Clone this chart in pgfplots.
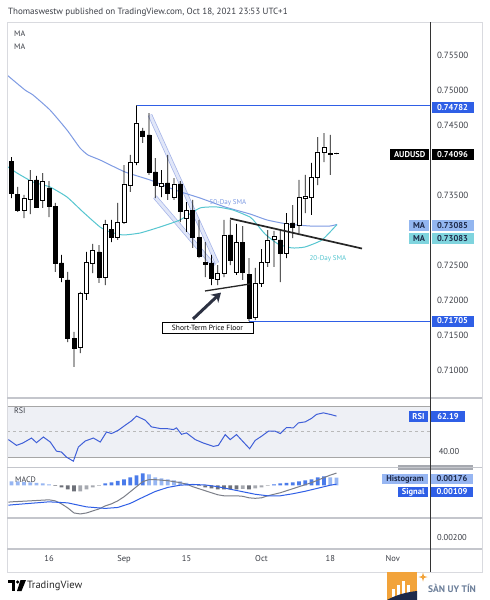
\documentclass[border=0pt]{standalone}
\usepackage{pgfplots}
\pgfplotsset{compat=1.18}
\usepackage{pgfplotstable}
\usepackage{fontspec}
\setmainfont{PT Sans}
\usetikzlibrary{arrows.meta}

\definecolor{tvblue}{HTML}{2F5FE6}
\definecolor{sma50}{HTML}{7E9BE3}
\definecolor{sma20}{HTML}{56C6D0}
\definecolor{chanE}{HTML}{A3B2E8}
\definecolor{chanF}{HTML}{E0E6F8}
\definecolor{sepc}{HTML}{C4C6CC}
\definecolor{framec}{HTML}{D9DADF}
\definecolor{txt}{HTML}{3A3D45}
\definecolor{navy}{HTML}{1E2A4A}
\definecolor{rsiband}{HTML}{EEF0F5}
\definecolor{rsiline}{HTML}{3F5FD8}
\definecolor{macdgray}{HTML}{7C7F88}
\definecolor{histblue}{HTML}{4A7BEA}
\definecolor{histlblue}{HTML}{97B6F2}
\definecolor{histgray}{HTML}{6E7179}
\definecolor{histlgray}{HTML}{A6A9B0}
\definecolor{maboxA}{HTML}{93B6F0}
\definecolor{maboxB}{HTML}{7FD4DE}
\definecolor{arrowc}{HTML}{2C3142}
\definecolor{sanor}{HTML}{F2A33A}
\definecolor{santxt}{HTML}{6C7F9A}

\newcommand{\fs}[1]{\fontsize{#1}{#1}\selectfont}

\pgfplotstableread{
i o h l c
-6 0.73988 0.74045 0.73461 0.73532
-5 0.73518 0.73618 0.73262 0.73290
-4 0.73290 0.73504 0.73176 0.73461
-3 0.73447 0.73860 0.73233 0.73718
-2 0.73718 0.73775 0.73319 0.73333
-1 0.73433 0.73817 0.73319 0.73703
0 0.73604 0.73703 0.73190 0.73347
1 0.73347 0.73390 0.72407 0.72535
2 0.72535 0.72649 0.72264 0.72335
3 0.72293 0.72407 0.71409 0.71466
4 0.71466 0.71552 0.71053 0.71324
5 0.71338 0.72122 0.71252 0.72107
6 0.72107 0.72692 0.72008 0.72549
7 0.72535 0.72806 0.72392 0.72720
8 0.72692 0.72791 0.72250 0.72335
9 0.72335 0.73148 0.72221 0.73091
10 0.73019 0.73148 0.72834 0.72905
11 0.72905 0.73390 0.72863 0.73119
12 0.73119 0.73931 0.73091 0.73661
13 0.73646 0.74074 0.73547 0.73974
14 0.73974 0.74782 0.73931 0.74530
15 0.74416 0.74459 0.74245 0.74345
16 0.74359 0.74672 0.73789 0.73832
17 0.73832 0.74031 0.73461 0.73646
18 0.73632 0.73860 0.73475 0.73675
19 0.73675 0.74074 0.73433 0.73532
20 0.73475 0.73746 0.73433 0.73661
21 0.73661 0.73703 0.73119 0.73276
22 0.73176 0.73404 0.72977 0.73290
23 0.73290 0.73433 0.72749 0.72905
24 0.72905 0.73148 0.72606 0.72635
25 0.72549 0.72834 0.72335 0.72521
26 0.72535 0.72649 0.72221 0.72321
27 0.72307 0.72506 0.72221 0.72392
28 0.72392 0.73148 0.72335 0.72934
29 0.72934 0.73148 0.72506 0.72578
30 0.72407 0.73091 0.72364 0.72834
31 0.72834 0.73062 0.72293 0.72407
32 0.72378 0.72606 0.71705 0.71751
33 0.71765 0.72464 0.71720 0.72250
34 0.72250 0.72734 0.72193 0.72549
35 0.72549 0.73005 0.72478 0.72863
36 0.72877 0.72991 0.72478 0.72920
37 0.72863 0.73005 0.72264 0.72677
38 0.72677 0.73247 0.72606 0.73105
39 0.73105 0.73361 0.72891 0.73048
40 0.73076 0.73718 0.72962 0.73475
41 0.73461 0.73789 0.73247 0.73490
42 0.73475 0.73960 0.73219 0.73760
43 0.73760 0.74330 0.73646 0.74117
44 0.74117 0.74387 0.73974 0.74188
45 0.74081 0.74359 0.73789 0.74096
46 0.74100 0.74105 0.74088 0.74092
}\candles

\pgfplotstableread{
x y
-6.72 0.75214
-3.84 0.75000
-2.56 0.74929
0.16 0.74715
2.88 0.74430
4.96 0.74174
6.24 0.74074
8.16 0.74003
12.16 0.73832
16.16 0.73718
20.16 0.73575
24.16 0.73461
28.16 0.73333
32.16 0.73233
34.88 0.73148
38.08 0.73091
41.76 0.73062
44.96 0.73062
46.08 0.73085
}\smafifty

\pgfplotstableread{
x y
-6.56 0.73903
-5.12 0.73817
-2.56 0.73689
0.16 0.73618
2.88 0.73475
5.44 0.73262
8.16 0.73048
9.76 0.72977
11.84 0.72934
14.56 0.72962
17.76 0.73048
20.96 0.73148
24.16 0.73319
26.88 0.73333
29.44 0.73290
32.16 0.73190
32.96 0.73119
34.56 0.72948
36.64 0.72806
38.88 0.72749
40.96 0.72763
43.68 0.72863
46.08 0.73083
}\smatwenty

\pgfplotstableread{
x y
-6.5 43.9
-5.2 39.4
-4.2 41.2
-2.8 45.1
-2.0 41.5
-0.9 45.9
0.2 42.0
1.2 34.9
2.0 34.2
2.8 30.2
3.9 27.1
4.7 38.1
5.8 42.8
7.1 45.1
8.2 42.0
9.2 49.8
10.0 48.6
11.1 51.2
12.2 55.1
13.2 58.5
14.0 62.2
15.4 59.0
16.4 53.8
17.8 52.5
18.8 52.5
19.9 51.7
20.4 53.0
21.2 48.0
22.0 49.1
23.4 43.9
24.7 41.2
26.3 38.6
27.1 39.4
28.2 47.8
29.0 43.9
30.0 47.8
31.1 42.0
32.1 36.8
33.0 43.3
34.0 46.5
35.1 50.4
36.2 50.4
37.0 48.6
38.0 53.3
39.1 53.0
39.9 56.9
41.0 57.7
42.0 60.4
42.8 63.5
43.9 64.7
45.0 63.5
46.0 62.19
}\rsi

\pgfplotstableread{
x y
-6.5 -0.00372
-6 -0.00365
-3 -0.00343
0 -0.00320
1 -0.00343
2 -0.00410
3 -0.00500
4 -0.00612
5 -0.00634
6 -0.00612
7 -0.00567
8 -0.00522
9 -0.00455
10 -0.00410
11 -0.00343
12 -0.00253
13 -0.00141
14 -0.00029
15 0.00083
16 0.00128
17 0.00128
18 0.00116
19 0.00105
20 0.00083
21 0.00060
22 0.00027
23 -0.00029
24 -0.00074
25 -0.00119
26 -0.00164
27 -0.00208
28 -0.00231
29 -0.00231
30 -0.00231
31 -0.00242
32 -0.00276
33 -0.00287
34 -0.00276
35 -0.00231
36 -0.00197
37 -0.00164
38 -0.00119
39 -0.00074
40 -0.00029
41 0.00016
42 0.00060
43 0.00116
44 0.00172
45 0.00228
46 0.00273
}\macd

\pgfplotstableread{
x y
-6.5 -0.00440
-6 -0.00432
0 -0.00365
3 -0.00388
6 -0.00477
9 -0.00511
11 -0.00490
13 -0.00400
15 -0.00265
17 -0.00135
19 -0.00045
21 0.00005
23 0.00020
25 0.00010
27 -0.00029
29 -0.00085
31 -0.00141
33 -0.00197
35 -0.00231
37 -0.00231
39 -0.00186
41 -0.00130
43 -0.00063
45 0.00004
46 0.00027
}\signal

\pgfplotsset{
  pane/.style={scale only axis, anchor=north west, width=423pt,
    xmin=-6.72, xmax=60.96, xtick=\empty, ytick=\empty,
    axis line style={draw=none}, major tick length=0pt},
  price/.style={pane, at={(7pt,-22pt)}, height=376pt, ymin=0.70611, ymax=0.75969},
}

\begin{document}
\begin{tikzpicture}
\useasboundingbox (0pt,0pt) rectangle (490pt,-600pt);
\fill[white] (0pt,0pt) rectangle (490pt,-600pt);

% ---------- main price pane: MAs, channel, levels
\begin{axis}[price,
  ytick={0.71,0.715,0.72,0.725,0.735,0.745,0.75,0.755},
  yticklabel pos=right, scaled y ticks=false,
  yticklabel style={font=\fs{9}, text=txt, xshift=3.5pt,
    /pgf/number format/.cd, fixed, fixed zerofill, precision=5, assume math mode=true}]
  \addplot[draw=chanE, double=chanF, double distance=3pt, line width=0.7pt] coordinates {(16.16,0.74644) (26.88,0.72535)};
  \addplot[draw=chanE, double=chanF, double distance=3pt, line width=0.7pt] coordinates {(16.96,0.73475) (26.4,0.72492)};
  \addplot[sma50, line width=1pt, smooth, tension=0.3] table {\smafifty};
  \addplot[sma20, line width=1pt, smooth, tension=0.3] table {\smatwenty};
  \addplot[tvblue, line width=1.3pt] coordinates {(14,0.74782) (60.96,0.74782)};
  \addplot[tvblue, line width=1.3pt] coordinates {(32,0.71705) (60.96,0.71705)};
\end{axis}

% ---------- wicks
\begin{axis}[price, hide axis, ybar stacked, bar width=0.13]
  \addplot[draw=none, fill=none] table[x=i, y=l] {\candles};
  \addplot[draw=none, fill=black] table[x=i, y expr=\thisrow{h}-\thisrow{l}] {\candles};
\end{axis}

% ---------- bodies
\begin{axis}[price, hide axis, ybar stacked, bar width=0.64]
  \addplot[draw=none, fill=none] table[x=i, y expr={min(\thisrow{o},\thisrow{c})}] {\candles};
  \addplot[draw=black, fill=white, line width=0.6pt] table[x=i, y expr={max(\thisrow{c}-\thisrow{o},0)}] {\candles};
  \addplot[draw=black, fill=black, line width=0.6pt] table[x=i, y expr={max(\thisrow{o}-\thisrow{c},0)}] {\candles};
\end{axis}

% ---------- annotations
\begin{axis}[price, hide axis]
  \addplot[black!85, line width=1.7pt] coordinates {(28.96,0.73169) (50.08,0.72741)};
  \addplot[black!85, line width=1.3pt] coordinates {(24.96,0.72136) (32.16,0.72236)};
  \addplot[arrowc, line width=3pt, -{Stealth[length=9pt,width=11pt]}] coordinates {(23.04,0.71737) (27.52,0.72113)};
\end{axis}

% ---------- RSI pane
\begin{axis}[pane, at={(7pt,-398pt)}, height=69.5pt, ymin=22.16, ymax=76.27]
  \addplot[fill=rsiband, draw=none] coordinates {(-6.72,30) (60.96,30) (60.96,70) (-6.72,70)} -- cycle;
  \addplot[gray!70, line width=0.6pt] coordinates {(-6.72,70) (60.96,70)};
  \addplot[gray!70, line width=0.6pt] coordinates {(-6.72,30) (60.96,30)};
  \addplot[gray!55, line width=0.6pt, dashed] coordinates {(-6.72,50) (60.96,50)};
  \addplot[rsiline, line width=1pt] table {\rsi};
\end{axis}

% ---------- MACD pane
\begin{axis}[pane, at={(7pt,-467.5pt)}, height=50.5pt, ymin=-0.00724, ymax=0.00397]
  \addplot[ybar, bar width=0.62, bar shift=0pt, fill=histlblue, draw=none] coordinates {(-6,0.0009) (-5,0.0009) (-4,0.00078) (-3,0.00067) (-2,0.00056) (-1,0.00045) (0,0.00022) (16,0.00246) (17,0.00179) (18,0.00157) (19,0.00134) (20,0.00112) (21,0.0009) (22,0.00056) (23,0.00034) (45,0.00179) (46,0.00175)};
  \addplot[ybar, bar width=0.62, bar shift=0pt, fill=histblue, draw=none] coordinates {(9,0.00045) (10,0.00067) (11,0.001) (12,0.00134) (13,0.00179) (14,0.00224) (15,0.00269) (36,0.00022) (37,0.00045) (38,0.00056) (39,0.00067) (40,0.0009) (41,0.00112) (42,0.00134) (43,0.00179) (44,0.00202)};
  \addplot[ybar, bar width=0.62, bar shift=0pt, fill=histgray, draw=none] coordinates {(1,-0.00011) (2,-0.00045) (3,-0.0009) (4,-0.00134) (24,-0.00011) (25,-0.00045) (26,-0.00067) (27,-0.0009) (28,-0.0009) (29,-0.0009) (30,-0.0009) (32,-0.0009)};
  \addplot[ybar, bar width=0.62, bar shift=0pt, fill=histlgray, draw=none] coordinates {(5,-0.00134) (6,-0.0009) (7,-0.00045) (8,-0.00011) (31,-0.00078) (33,-0.00067) (34,-0.00045) (35,-0.00011)};
  \addplot[macdgray, line width=1pt] table {\macd};
  \addplot[tvblue, line width=1pt] table {\signal};
\end{axis}

% ---------- lower pane with time axis
\begin{axis}[pane, at={(7pt,-518pt)}, height=31pt, ymin=0, ymax=1,
  xtick={0,12,22,34,45,55}, xticklabels={16,Sep,15,Oct,18,Nov},
  xticklabel style={font=\fs{8.5}, text=txt, yshift=-3pt}]
  \addplot[draw=none] coordinates {(0,0.5)};
\end{axis}

\begin{scope}[x=1pt,y=-1pt]
  \fill[histlgray] (398,465) rectangle (473,469.5);
  \draw[framec, line width=0.6pt] (7,22) rectangle (482,572);
  \foreach \yy in {398,467.5,518,549} \draw[sepc, line width=1.3pt] (7,\yy) -- (482,\yy);
  \draw[black!80, line width=0.7pt] (430,22) -- (430,572);

  \node[anchor=west, font=\fs{9}, text=txt, inner sep=0pt] at (8,12) {Thomaswestw published on TradingView.com, Oct 18, 2021 23:53 UTC+1};
  \node[anchor=west, font=\fs{8}, text=txt, inner sep=0pt] at (14,33.5) {MA};
  \node[anchor=west, font=\fs{8}, text=txt, inner sep=0pt] at (14,46.5) {MA};
  \node[anchor=west, font=\fs{8}, text=txt, inner sep=0pt] at (14,410.5) {RSI};
  \node[anchor=west, font=\fs{8}, text=txt, inner sep=0pt] at (15,480) {MACD};

  \node[text=sma50, font=\fs{7}] at (228,203) {50-Day SMA};
  \node[text=sma20, font=\fs{7}] at (328,259) {20-Day SMA};
  \node[draw=black, fill=white, line width=0.6pt, inner sep=0pt, minimum width=91pt, minimum height=10.5pt, font=\fs{7.5}] at (207.5,327.75) {Short-Term Price Floor};

  \tikzset{lbl/.style={inner sep=0pt, minimum height=11pt, font=\bfseries\fs{8.5}}}
  \node[lbl, fill=tvblue, text=white, minimum width=42pt] at (452.5,107.2) {0.74782};
  \node[lbl, fill=black, text=white, minimum width=39pt] at (409.7,154.5) {AUDUSD};
  \node[lbl, fill=black, text=white, minimum width=42pt] at (452.5,154.5) {0.74096};
  \node[lbl, fill=maboxA, text=navy, minimum width=20pt] at (419,225.9) {MA};
  \node[lbl, fill=maboxA, text=navy, minimum width=42pt] at (452.5,225.9) {0.73085};
  \node[lbl, fill=maboxB, text=navy, minimum width=20pt] at (419,238.4) {MA};
  \node[lbl, fill=maboxB, text=navy, minimum width=42pt] at (452.5,238.4) {0.73083};
  \node[lbl, fill=tvblue, text=white, minimum width=42pt] at (452.5,321) {0.71705};
  \node[lbl, fill=tvblue, text=white, minimum width=19pt] at (418.5,416.5) {RSI};
  \node[lbl, fill=tvblue, text=white, minimum width=34pt] at (448,416.5) {62.19};
  \node[font=\fs{8.5}, text=txt] at (449,452) {40.00};
  \node[lbl, fill=histlblue, text=navy, minimum width=46.6pt, minimum height=10pt] at (405,479) {Histogram};
  \node[lbl, fill=histlblue, text=navy, minimum width=42.6pt, minimum height=10pt] at (452,479) {0.00176};
  \node[lbl, fill=tvblue, text=white, minimum width=30.3pt, minimum height=10pt] at (413.2,492) {Signal};
  \node[lbl, fill=tvblue, text=white, minimum width=42.6pt, minimum height=10pt] at (452,492) {0.00109};
  \node[font=\fs{8.5}, text=txt] at (452,538) {0.00200};

  % TradingView footer
  \fill[black] (8,580) rectangle (15,583.2);
  \fill[black] (11.6,580) rectangle (15,591);
  \fill[black] (17.6,582) circle (1.7);
  \fill[black] (20.5,580) -- (26,580) -- (21.5,591) -- (17,591) -- cycle;
  \node[anchor=west, font=\fs{10.5}, text=black!85, inner sep=0pt] at (27,585.5) {TradingView};

  % watermark
  \fill[sanor] (387,572) rectangle (417,600);
  \fill[white] (392,589) rectangle (394.5,597);
  \fill[white] (397,585) rectangle (399.5,597);
  \fill[white] (402,581) rectangle (404.5,597);
  \fill[white] (407,585) rectangle (409.5,597);
  \fill[navy] (387,600) .. controls (398,594) and (408,592) .. (417,591) -- (417,600) -- cycle;
  \fill[sanor] (423,572.5) -- (424,576) -- (427.5,577) -- (424,578) -- (423,581.5) -- (422,578) -- (418.5,577) -- (422,576) -- cycle;
  \node[anchor=west, font=\bfseries\fs{9.5}, text=santxt, inner sep=0pt] at (428,588) {SÀN UY TÍN};
\end{scope}
\end{tikzpicture}
\end{document}
